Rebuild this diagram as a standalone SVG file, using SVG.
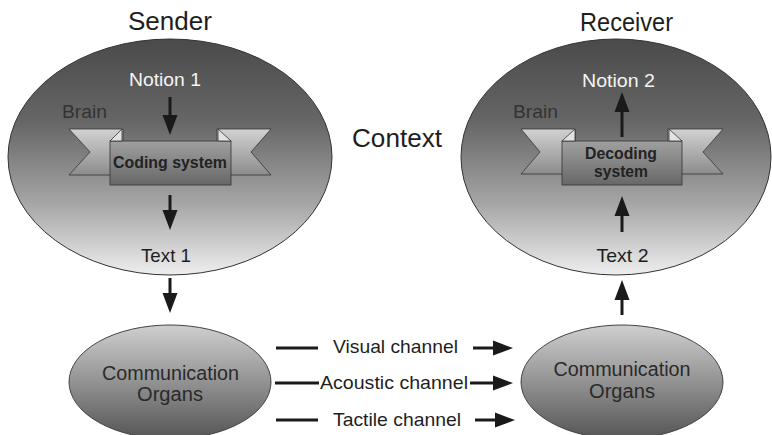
<svg xmlns="http://www.w3.org/2000/svg" width="772" height="435" viewBox="0 0 772 435">
<defs>
<linearGradient id="gBig" x1="0" y1="0" x2="0" y2="1">
<stop offset="0" stop-color="#4a4a4a"/>
<stop offset="0.35" stop-color="#666"/>
<stop offset="0.7" stop-color="#a6a6a6"/>
<stop offset="1" stop-color="#eeeeee"/>
</linearGradient>
<linearGradient id="gSmall" x1="0" y1="0" x2="0" y2="1">
<stop offset="0" stop-color="#cfcfcf"/>
<stop offset="1" stop-color="#555"/>
</linearGradient>
<linearGradient id="gTail" x1="0" y1="0" x2="0" y2="1">
<stop offset="0" stop-color="#d2d2d2"/>
<stop offset="1" stop-color="#8c8c8c"/>
</linearGradient>
<linearGradient id="gBox" x1="0" y1="0" x2="0" y2="1">
<stop offset="0" stop-color="#a0a0a0"/>
<stop offset="1" stop-color="#676767"/>
</linearGradient>
<marker id="ah" markerUnits="userSpaceOnUse" markerWidth="20" markerHeight="16" refX="10" refY="8" orient="auto">
<path d="M0,0.5 L20,8 L0,15.5 z" fill="#1a1a1a"/>
</marker>
</defs>
<style>
text{font-family:"Liberation Sans",Arial,sans-serif;}
.big{stroke:#333;stroke-width:1;fill:url(#gBig);}
.small{stroke:#444;stroke-width:1;fill:url(#gSmall);}
.tail{fill:url(#gTail);stroke:#333;stroke-width:0.8;}
.fold{fill:#e2e2e2;stroke:#333;stroke-width:0.8;}
.box{fill:url(#gBox);stroke:#333;stroke-width:0.8;}
.title{font-size:25px;fill:#1e1e1e;}
.lbl{font-size:19px;}
.wht{fill:#f4f4f4;}
.drk{fill:#333;}
.blk{fill:#1e1e1e;}
.bold{font-size:16px;font-weight:bold;fill:#222;}
.org{font-size:20px;fill:#2a2a2a;}
.ch{font-size:19px;fill:#1e1e1e;}
.ln{stroke:#1a1a1a;stroke-width:3;fill:none;}
.arr{stroke:#1a1a1a;stroke-width:3;fill:none;marker-end:url(#ah);}
</style>

<g id="sender">
<ellipse class="big" cx="170" cy="157" rx="162" ry="118"/>
<text class="title" x="170" y="30" text-anchor="middle" textLength="84" lengthAdjust="spacingAndGlyphs">Sender</text>
<text class="lbl wht" x="165" y="86" text-anchor="middle" textLength="72" lengthAdjust="spacingAndGlyphs">Notion 1</text>
<text class="lbl drk" x="62" y="118" textLength="45" lengthAdjust="spacingAndGlyphs">Brain</text>
<polygon class="tail" points="69,129 123,129 123,175 69,175 90,152"/>
<polygon class="tail" points="217,129 271,129 251,152 271,175 217,175"/>
<rect class="box" x="110" y="141" width="121" height="44"/>
<polygon class="fold" points="110,141 122,129 122,141"/>
<polygon class="fold" points="218,129 231,141 218,141"/>
<text class="bold" x="170" y="168" text-anchor="middle" textLength="114" lengthAdjust="spacingAndGlyphs">Coding system</text>
<text class="lbl blk" x="166" y="262" text-anchor="middle" textLength="50" lengthAdjust="spacingAndGlyphs">Text 1</text>
</g>

<g id="receiver">
<ellipse class="big" cx="616" cy="157" rx="155" ry="118"/>
<text class="title" x="626.5" y="31" text-anchor="middle" textLength="93" lengthAdjust="spacingAndGlyphs">Receiver</text>
<text class="lbl wht" x="618.5" y="87" text-anchor="middle" textLength="73" lengthAdjust="spacingAndGlyphs">Notion 2</text>
<text class="lbl drk" x="513" y="118" textLength="45" lengthAdjust="spacingAndGlyphs">Brain</text>
<polygon class="tail" points="521,129 575,129 575,174 521,174 540,152"/>
<polygon class="tail" points="668,129 723,129 703,152 723,174 668,174"/>
<rect class="box" x="562" y="141" width="120" height="44"/>
<polygon class="fold" points="562,141 575,129 575,141"/>
<polygon class="fold" points="669,129 682,141 669,141"/>
<text class="bold" x="621" y="159" text-anchor="middle" textLength="72" lengthAdjust="spacingAndGlyphs">Decoding</text>
<text class="bold" x="621" y="177" text-anchor="middle" textLength="54" lengthAdjust="spacingAndGlyphs">system</text>
<text class="lbl blk" x="622.5" y="262" text-anchor="middle" textLength="52" lengthAdjust="spacingAndGlyphs">Text 2</text>
</g>

<g id="context">
<text x="352" y="147" font-size="26" fill="#1e1e1e" textLength="90" lengthAdjust="spacingAndGlyphs">Context</text>
</g>

<g id="organs-sender">
<ellipse class="small" cx="170" cy="382" rx="101" ry="57"/>
<text class="org" x="170.5" y="380" text-anchor="middle" textLength="137" lengthAdjust="spacingAndGlyphs">Communication</text>
<text class="org" x="170" y="401" text-anchor="middle" textLength="66" lengthAdjust="spacingAndGlyphs">Organs</text>
</g>

<g id="organs-receiver">
<ellipse class="small" cx="622" cy="382" rx="101" ry="57"/>
<text class="org" x="622" y="376" text-anchor="middle" textLength="137" lengthAdjust="spacingAndGlyphs">Communication</text>
<text class="org" x="622" y="398" text-anchor="middle" textLength="66" lengthAdjust="spacingAndGlyphs">Organs</text>
</g>

<g id="channels">
<text class="ch" x="333" y="353" textLength="125" lengthAdjust="spacingAndGlyphs">Visual channel</text>
<text class="ch" x="320" y="389" textLength="148" lengthAdjust="spacingAndGlyphs">Acoustic channel</text>
<text class="ch" x="333" y="426" textLength="128" lengthAdjust="spacingAndGlyphs">Tactile channel</text>
</g>

<g id="connectors">
<line class="arr" x1="170" y1="97" x2="170" y2="125"/>
<line class="arr" x1="170" y1="195" x2="170" y2="220"/>
<line class="arr" x1="622" y1="137" x2="622" y2="102"/>
<line class="arr" x1="622" y1="232" x2="622" y2="206"/>
<line class="arr" x1="170" y1="278" x2="170" y2="303"/>
<line class="arr" x1="622" y1="315" x2="622" y2="290"/>
<line class="ln" x1="276" y1="348" x2="318" y2="348"/>
<line class="arr" x1="473" y1="348" x2="503" y2="348"/>
<line class="ln" x1="275" y1="383" x2="319" y2="383"/>
<line class="arr" x1="470" y1="383" x2="503" y2="383"/>
<line class="ln" x1="276" y1="420" x2="318" y2="420"/>
<line class="arr" x1="475" y1="420" x2="505" y2="420"/>
</g>
</svg>
